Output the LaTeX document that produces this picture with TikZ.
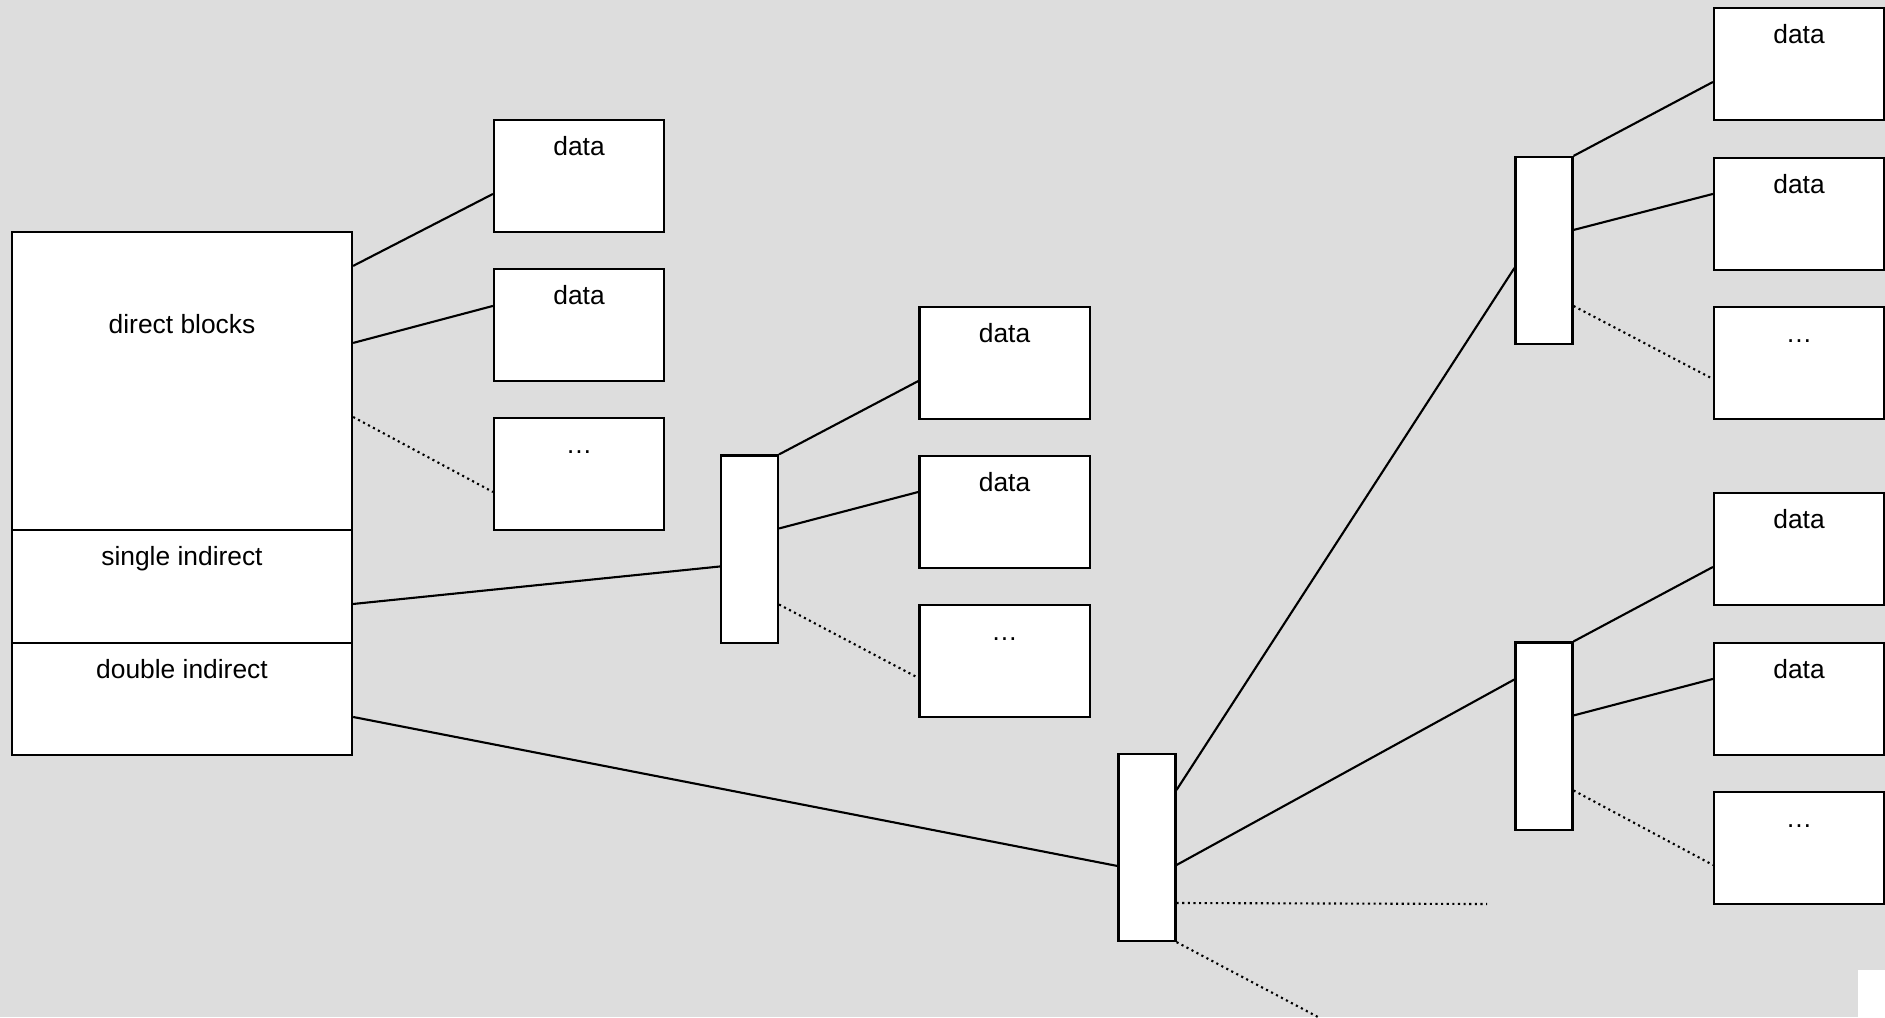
\documentclass[tikz,border=0pt]{standalone}
\usepackage{fontspec}
\setmainfont{Liberation Sans}
\usepackage{tikz}
\definecolor{pagegray}{RGB}{221,221,221}

\begin{document}
\begin{tikzpicture}[x=0.01cm, y=-0.01cm,
                    line width=0.6pt,
                    inoND/.style={rectangle,
                                  draw=black,
                                  fill=white,
                                  inner sep=0pt,
                                  minimum width=3.40cm,
                                  font=\fontsize{7.5pt}{9pt}\selectfont},
                    blkND/.style={rectangle,
                                  draw=black,
                                  fill=white,
                                  inner sep=0pt,
                                  minimum width=1.70cm,
                                  text height=0.35cm,
                                  text depth=0.77cm,
                                  font=\fontsize{7.5pt}{9pt}\selectfont},
                    ptrND/.style={rectangle,
                                  draw=black,
                                  fill=white,
                                  inner sep=0pt,
                                  minimum width=0.57cm,
                                  minimum height=1.87cm},
                    moreline/.style={densely dotted}]
            \useasboundingbox (0,0) rectangle (1885,1017);
            \fill[pagegray] (0,0) rectangle (1885,1017);
            \fill[white] (1858,970) rectangle (1885,1017);
            % inode
            \node[inoND, text height=1.02cm, text depth=1.96cm] (dir) at (182,381)   {direct blocks};
            \node[inoND, text height=0.35cm, text depth=0.78cm] (sin) at (182,586.5) {single indirect};
            \node[inoND, text height=0.35cm, text depth=0.77cm] (dbl) at (182,699)   {double indirect};
            % pointer blocks
            \node[ptrND] (p1) at (749.5,549)  {};
            \node[ptrND] (p2) at (1147,847.5) {};
            \node[ptrND] (p3) at (1544,250.5) {};
            \node[ptrND] (p4) at (1544,736)   {};
            % data blocks
            \node[blkND] (d1a) at (579,176)    {data};
            \node[blkND] (d1b) at (579,325)    {data};
            \node[blkND] (d1c) at (579,474)    {…};
            \node[blkND] (d2a) at (1004.5,363) {data};
            \node[blkND] (d2b) at (1004.5,512) {data};
            \node[blkND] (d2c) at (1004.5,661) {…};
            \node[blkND] (d3a) at (1799,64)    {data};
            \node[blkND] (d3b) at (1799,214)   {data};
            \node[blkND] (d3c) at (1799,363)   {…};
            \node[blkND] (d4a) at (1799,549)   {data};
            \node[blkND] (d4b) at (1799,699)   {data};
            \node[blkND] (d4c) at (1799,848)   {…};
            \coordinate (hEnd) at (1487,904);
            \coordinate (dEnd) at (1318,1017);
            \path
                ([yshift=-0.35cm]dir.north east) edge            ([yshift=-0.75cm]d1a.north west)
                ([yshift=-1.12cm]dir.north east) edge            ([yshift=-0.38cm]d1b.north west)
                ([yshift=-1.86cm]dir.north east) edge [moreline] ([yshift=-0.75cm]d1c.north west)
                ([yshift=-0.75cm]sin.north east) edge            ([yshift=-1.12cm]p1.north west)
                ([yshift=-0.75cm]dbl.north east) edge            ([yshift=-1.13cm]p2.north west)
                (p1.north east)                  edge            ([yshift=-0.75cm]d2a.north west)
                ([yshift=-0.74cm]p1.north east)  edge            ([yshift=-0.37cm]d2b.north west)
                ([yshift=-1.50cm]p1.north east)  edge [moreline] ([yshift=-0.74cm]d2c.north west)
                ([yshift=-0.37cm]p2.north east)  edge            ([yshift=-1.12cm]p3.north west)
                ([yshift=-1.12cm]p2.north east)  edge            ([yshift=-0.38cm]p4.north west)
                ([yshift=-1.50cm]p2.north east)  edge [moreline] (hEnd)
                (p2.south east)                  edge [moreline] (dEnd)
                (p3.north east)                  edge            ([yshift=-0.75cm]d3a.north west)
                ([yshift=-0.74cm]p3.north east)  edge            ([yshift=-0.37cm]d3b.north west)
                ([yshift=-1.50cm]p3.north east)  edge [moreline] ([yshift=-0.73cm]d3c.north west)
                (p4.north east)                  edge            ([yshift=-0.75cm]d4a.north west)
                ([yshift=-0.74cm]p4.north east)  edge            ([yshift=-0.37cm]d4b.north west)
                ([yshift=-1.49cm]p4.north east)  edge [moreline] ([yshift=-0.74cm]d4c.north west)
                ;
        \end{tikzpicture}
\end{document}
